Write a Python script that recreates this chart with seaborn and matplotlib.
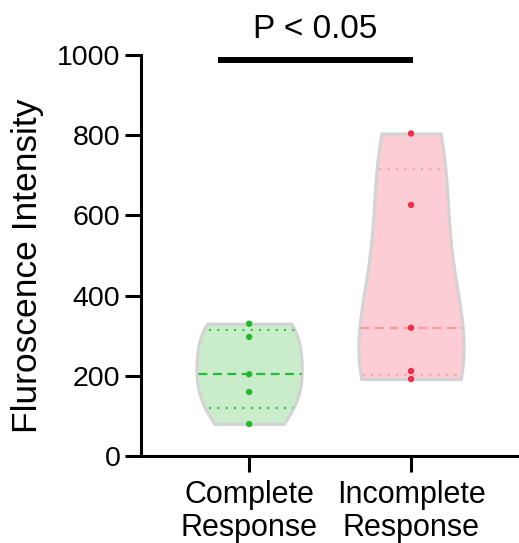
import numpy as np
import pandas as pd
import matplotlib
matplotlib.use("Agg")
import matplotlib.pyplot as plt
import seaborn as sns

groups = ["Complete\nResponse", "Incomplete\nResponse"]
complete_vals = [330, 297, 204, 160, 80]
incomplete_vals = [804, 626, 320, 212, 192]
y_ticks = [0, 200, 400, 600, 800, 1000]
y_label = "Fluroscence Intensity"
sig_text = "P < 0.05"

fill_colors = ["#c9edca", "#fccdd4"]
point_colors = ["#22b92f", "#f0304a"]
median_colors = ["#2ab936", "#f79a9a"]
quart_colors = ["#33bd3e", "#f5a3a3"]
outline = "#d3d3d3"

df = pd.DataFrame({
    "group": [groups[0]] * len(complete_vals) + [groups[1]] * len(incomplete_vals),
    "value": complete_vals + incomplete_vals,
})

sns.set_style("ticks")
plt.rcParams["font.family"] = ["Liberation Sans", "DejaVu Sans"]
plt.rcParams["text.color"] = "black"
plt.rcParams["axes.labelcolor"] = "black"

fig = plt.figure(figsize=(5.19, 5.43), dpi=100)
ax = fig.add_axes([0.272, 0.160, 0.728, 0.739])

sns.violinplot(data=df, x="group", y="value", hue="group", palette=fill_colors,
               cut=0, inner=None, density_norm="width", width=0.65,
               linewidth=2.2, linecolor=outline, saturation=1, legend=False, ax=ax)
violins = list(ax.collections)

# quartile lines (GraphPad style percentiles), clipped to violin shape
for i, vals in enumerate([complete_vals, incomplete_vals]):
    q1, med, q3 = np.percentile(vals, [25, 50, 75], method="weibull")
    clip = violins[i]
    for q, ls, c, lw in [(q1, (0, (1, 3)), quart_colors[i], 1.5),
                         (q3, (0, (1, 3)), quart_colors[i], 1.5),
                         (med, (0, (4, 2.5)), median_colors[i], 1.6)]:
        ln, = ax.plot([i - 0.4, i + 0.4], [q, q], color=c, ls=ls, lw=lw, zorder=3)
        ln.set_clip_path(clip.get_paths()[0], clip.get_transform())

sns.stripplot(data=df, x="group", y="value", hue="group", palette=point_colors,
              jitter=False, size=4.6, legend=False, zorder=4, ax=ax)

ax.set_xlim(-0.667, 1.667)
ax.set_ylim(0, 1000)
ax.set_yticks(y_ticks)
ax.set_xlabel("")
ax.set_ylabel(y_label, fontsize=25.5, labelpad=9, color="black")
ax.yaxis.label.set_y(0.474)
ax.tick_params(axis="both", width=2.2, length=11.5, color="black", labelcolor="black")
ax.tick_params(axis="y", labelsize=20.5)
ax.tick_params(axis="x", labelsize=22, pad=6)
for s in ["left", "bottom"]:
    ax.spines[s].set_linewidth(2.2)
    ax.spines[s].set_color("black")
sns.despine(ax=ax)
for lbl in ax.get_xticklabels():
    lbl.set_linespacing(1.1)

# significance bar
ax.plot([-0.19, 1.01], [988, 988], color="black", lw=4.3, solid_capstyle="butt",
        clip_on=False)
ax.text(0.41, 1042, sig_text, ha="center", va="baseline", fontsize=24, color="black")

fig.savefig("out.png", dpi=100)
